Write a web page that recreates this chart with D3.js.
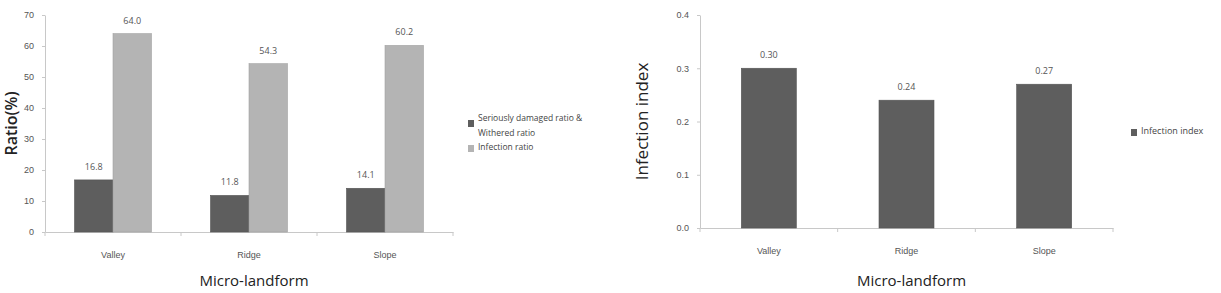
<!DOCTYPE html>
<html>
<head>
<meta charset="utf-8">
<script src="https://cdn.jsdelivr.net/npm/d3@7"></script>
<style>
    body { margin: 0; background: #fff; }
    svg { display: block; font-family: "Open Sans", "Noto Sans", sans-serif; }
    .tick text { fill: #555; font-size: 9px; }
    .axis path, .axis line { stroke: #c8c8c8; }
</style>
</head>
<body>
<svg id="chart" width="1221" height="293"></svg>
<script>
// Categories shared by both panels
const landforms = ["Valley", "Ridge", "Slope"];

// Left panel: ratios (%)
const damagedRatio = [16.8, 11.8, 14.1];
const infectionRatio = [64.0, 54.3, 60.2];
const ratioTicks = [0, 10, 20, 30, 40, 50, 60, 70];

// Right panel: infection index
const infectionIndex = [0.30, 0.24, 0.27];
const indexTicks = [0, 0.1, 0.2, 0.3, 0.4];

const darkGray = "#5e5e5e";
const lightGray = "#b4b4b4";

const svg = d3.select("#chart");

/**
 * Draw one bar panel
 */
function drawPanel(opts) {
    const g = svg.append("g");

    const x = d3.scaleBand()
        .domain(landforms)
        .range([opts.left, opts.right]);

    const y = d3.scaleLinear()
        .domain(opts.domain)
        .range([opts.bottom, opts.top]);

    // Y axis
    g.append("g")
        .attr("class", "axis")
        .attr("transform", `translate(${opts.left},0)`)
        .call(d3.axisLeft(y).tickValues(opts.ticks).tickFormat(opts.tickFmt).tickSize(3).tickSizeOuter(0).tickPadding(8));

    // X axis with ticks between categories
    const xa = g.append("g")
        .attr("class", "axis")
        .attr("transform", `translate(0,${opts.bottom})`)
        .call(d3.axisBottom(x).tickSize(0).tickSizeOuter(0).tickPadding(20));
    xa.selectAll(".sep")
        .data(d3.range(landforms.length + 1))
        .enter()
        .append("line")
        .attr("x1", i => opts.left + i * x.step())
        .attr("x2", i => opts.left + i * x.step())
        .attr("y1", 0)
        .attr("y2", 4)
        .attr("stroke", "#c8c8c8");

    // Bars
    const sub = d3.scaleBand()
        .domain(d3.range(opts.series.length))
        .range([0, opts.groupWidth]);

    opts.series.forEach((s, si) => {
        g.selectAll(null)
            .data(s.values)
            .enter()
            .append("rect")
            .attr("x", (d, i) => x(landforms[i]) + x.bandwidth() / 2 - opts.groupWidth / 2 + sub(si))
            .attr("y", d => y(d))
            .attr("width", sub.bandwidth())
            .attr("height", d => opts.bottom - y(d))
            .attr("fill", s.color)
            .attr("stroke", d3.color(s.color).darker(0.3))
            .attr("stroke-width", 0.6);

        g.selectAll(null)
            .data(s.values)
            .enter()
            .append("text")
            .attr("x", (d, i) => x(landforms[i]) + x.bandwidth() / 2 - opts.groupWidth / 2 + sub(si) + sub.bandwidth() / 2)
            .attr("y", d => y(d) - 10)
            .attr("text-anchor", "middle")
            .attr("font-size", 9)
            .attr("fill", "#555")
            .text(d => opts.fmt(d));
    });

    // Axis titles
    g.append("text")
        .attr("transform", `translate(${opts.yTitleX},${(opts.top + opts.bottom) / 2}) rotate(-90)`)
        .attr("text-anchor", "middle")
        .attr("dominant-baseline", "middle")
        .attr("font-size", opts.yTitleSize)
        .attr("font-weight", opts.yTitleWeight)
        .attr("fill", "#222")
        .text(opts.yTitle);

    g.append("text")
        .attr("x", (opts.left + opts.right) / 2 + 5)
        .attr("y", 286)
        .attr("text-anchor", "middle")
        .attr("font-size", 15)
        .attr("fill", "#222")
        .text("Micro-landform");

    // Legend
    const lg = g.append("g")
        .attr("transform", `translate(${opts.legendX},${opts.legendY})`);
    let row = 0;
    opts.series.forEach(s => {
        lg.append("rect")
            .attr("x", 0)
            .attr("y", row * 14.5 + (s.label.length > 1 ? 1 : -3))
            .attr("width", 6)
            .attr("height", 7)
            .attr("fill", s.color);
        s.label.forEach((line, li) => {
            lg.append("text")
                .attr("x", 10)
                .attr("y", (row + li) * 14.5)
                .attr("dominant-baseline", "middle")
                .attr("font-size", opts.legendSize)
                .attr("fill", "#444")
                .text(line);
        });
        row += s.label.length;
    });
}

drawPanel({
    left: 45, right: 453, top: 15, bottom: 232,
    domain: [0, 70], ticks: ratioTicks,
    tickFmt: d3.format("d"), fmt: d3.format(".1f"),
    groupWidth: 77,
    series: [
        { values: damagedRatio, color: darkGray, label: ["Seriously damaged ratio &", "Withered ratio"] },
        { values: infectionRatio, color: lightGray, label: ["Infection ratio"] }
    ],
    yTitle: "Ratio(%)", yTitleX: 13, yTitleSize: 16, yTitleWeight: 600,
    legendX: 468, legendY: 119, legendSize: 8.5
});

drawPanel({
    left: 700, right: 1113, top: 15, bottom: 228,
    domain: [0, 0.4], ticks: indexTicks,
    tickFmt: d3.format(".1f"), fmt: d3.format(".2f"),
    groupWidth: 55,
    series: [
        { values: infectionIndex, color: darkGray, label: ["Infection index"] }
    ],
    yTitle: "Infection index", yTitleX: 643, yTitleSize: 17, yTitleWeight: 400,
    legendX: 1131, legendY: 132, legendSize: 9
});
</script>
</body>
</html>
